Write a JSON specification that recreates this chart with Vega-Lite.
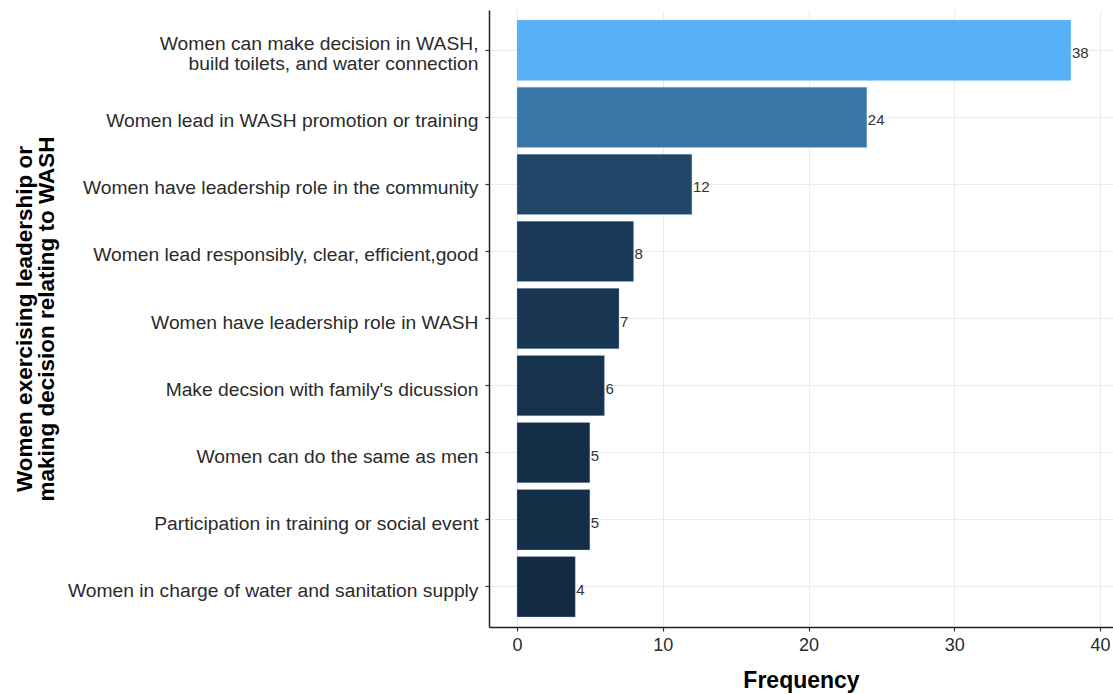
{
  "$schema": "https://vega.github.io/schema/vega-lite/v6.json",
  "width": 624,
  "height": 617,
  "autosize": "none",
  "padding": {"left": 489, "top": 10, "right": 0, "bottom": 67},
  "background": "white",
  "config": {
    "view": {"stroke": null},
    "font": "Liberation Sans",
    "axis": {
      "domainColor": "#222222",
      "domainWidth": 1.5,
      "tickColor": "#333333",
      "tickSize": 4,
      "tickWidth": 1.2,
      "gridColor": "#EBEBEB",
      "gridWidth": 1,
      "labelColor": "#2b2b2b",
      "labelFont": "Liberation Sans",
      "titleFont": "Liberation Sans",
      "titleColor": "#000000",
      "titleFontWeight": "bold"
    }
  },
  "data": {
    "values": [
      {"item": "Women can make decision in WASH,|build toilets, and water connection", "freq": 38, "ord": 1},
      {"item": "Women lead in WASH promotion or training", "freq": 24, "ord": 2},
      {"item": "Women have leadership role in the community", "freq": 12, "ord": 3},
      {"item": "Women lead responsibly, clear, efficient,good", "freq": 8, "ord": 4},
      {"item": "Women have leadership role in WASH", "freq": 7, "ord": 5},
      {"item": "Make decsion with family's dicussion", "freq": 6, "ord": 6},
      {"item": "Women can do the same as men", "freq": 5, "ord": 7},
      {"item": "Participation in training or social event", "freq": 5, "ord": 8},
      {"item": "Women in charge of water and sanitation supply", "freq": 4, "ord": 9}
    ]
  },
  "encoding": {
    "y": {
      "field": "item",
      "type": "nominal",
      "sort": {"field": "ord", "order": "ascending"},
      "scale": {"paddingInner": 0.1, "paddingOuter": 0.15},
      "axis": {
        "title": ["Women exercising leadership or", "making decision relating to WASH"],
        "titleFontSize": 22.5,
        "titleLineHeight": 22,
        "titleAngle": -90,
        "titleX": -465,
        "titleY": 308.5,
        "titleAlign": "center",
        "titleBaseline": "middle",
        "labelFontSize": 19.25,
        "labelLimit": 600,
        "labelPadding": 7,
        "labelLineHeight": 20,
        "labelOffset": 4,
        "labelBaseline": {"condition": {"test": "indexof(datum.value, '|') >= 0", "value": "line-bottom"}, "value": "middle"},
        "labelExpr": "split(datum.label, '|')",
        "grid": true
      }
    },
    "x": {
      "field": "freq",
      "type": "quantitative",
      "scale": {"domain": [-1.92, 40.89], "nice": false, "zero": false},
      "axis": {
        "title": "Frequency",
        "titleFontSize": 23,
        "titleY": 60,
        "titleBaseline": "alphabetic",
        "values": [0, 10, 20, 30, 40],
        "labelFontSize": 18,
        "labelPadding": 5,
        "grid": true
      }
    }
  },
  "layer": [
    {
      "mark": {"type": "bar", "stroke": "#9fc9ea", "strokeWidth": 0.6, "strokeOpacity": 0.5},
      "encoding": {
        "color": {
          "field": "freq",
          "type": "quantitative",
          "scale": {"type": "linear", "domain": [4, 38], "range": ["#132B43", "#56B1F7"], "interpolate": "lab"},
          "legend": null
        }
      }
    },
    {
      "mark": {"type": "text", "align": "left", "baseline": "middle", "dx": 1, "dy": 3, "fontSize": 15, "color": "#333333", "font": "Liberation Sans"},
      "encoding": {
        "text": {"field": "freq", "type": "quantitative"}
      }
    }
  ]
}
